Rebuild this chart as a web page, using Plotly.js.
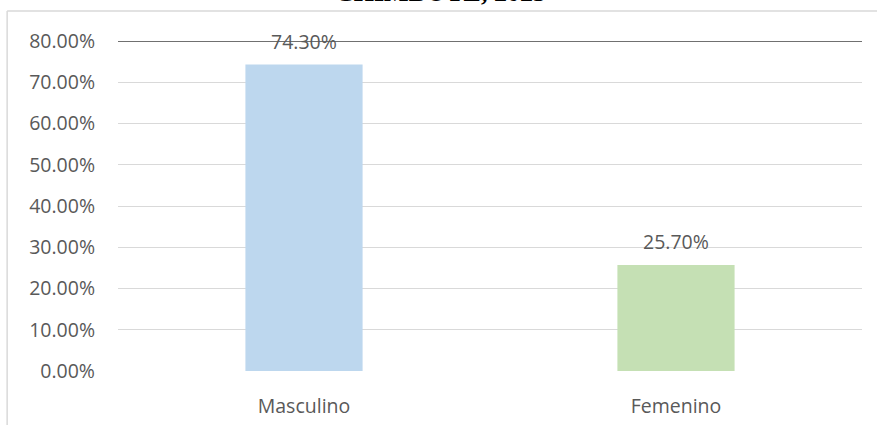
<!DOCTYPE html>
<html>
<head>
<meta charset="utf-8">
<script src="https://cdn.plot.ly/plotly-3.0.1.min.js"></script>
<style>
  html, body { margin: 0; padding: 0; background: #ffffff; }
  #chart { width: 877px; height: 425px; }
</style>
</head>
<body>
<div id="chart"></div>
<script>
// Distribución por sexo
const categories = ["Masculino", "Femenino"];
const shares = [0.743, 0.257];
const barColors = ["#bdd7ee", "#c5e0b4"];
const valueLabels = ["74.30%", "25.70%"];
const titleText = "CHIMBOTE, 2023";

const labelFont = { family: "Open Sans, Liberation Sans, sans-serif", size: 19.5, color: "#595959" };

const trace = {
  type: "bar",
  x: categories,
  y: shares,
  marker: { color: barColors, line: { width: 0 } },
  hoverinfo: "skip"
};

// value labels sit above each bar
const valueAnnotations = categories.map((c, i) => ({
  x: c, y: shares[i], xref: "x", yref: "y",
  text: valueLabels[i], showarrow: false,
  yanchor: "middle", yshift: 23,
  font: labelFont
}));

// chart heading, running off the top edge of the frame
const headingAnnotation = {
  xref: "paper", yref: "paper", x: 0.433, y: 1.148,
  xanchor: "center", yanchor: "middle",
  text: "<b>" + titleText + "</b>", showarrow: false,
  font: { family: "Liberation Serif, serif", size: 26, color: "#000000" }
};

const layout = {
  width: 877, height: 425,
  margin: { l: 118, r: 15, t: 41, b: 54 },
  paper_bgcolor: "#ffffff",
  plot_bgcolor: "#ffffff",
  showlegend: false,
  bargap: 0.685,
  xaxis: {
    type: "category",
    showgrid: false, zeroline: false, showline: false,
    ticks: "", tickfont: labelFont,
    ticklabelstandoff: 21
  },
  yaxis: {
    range: [0, 0.8],
    tickvals: [0, 0.1, 0.2, 0.3, 0.4, 0.5, 0.6, 0.7, 0.8],
    tickformat: ".2%",
    showgrid: true, gridcolor: "#d9d9d9", gridwidth: 1,
    zeroline: false, showline: false, ticks: "",
    tickfont: labelFont,
    ticklabelstandoff: 22
  },
  annotations: valueAnnotations.concat([headingAnnotation]),
  shapes: [
    // outer frame: top and left edges
    { type: "line", xref: "paper", yref: "paper", x0: -0.149, x1: 1.03, y0: 1.0909, y1: 1.0909,
      line: { color: "#d9d9d9", width: 1.5 }, layer: "below" },
    { type: "line", xref: "paper", yref: "paper", x0: -0.149, x1: -0.149, y0: 1.0909, y1: -0.2,
      line: { color: "#d9d9d9", width: 1.5 }, layer: "below" },
    // dark top rule at 80%
    { type: "line", xref: "paper", yref: "y", x0: 0, x1: 1, y0: 0.8, y1: 0.8,
      line: { color: "#404040", width: 1.5 }, layer: "below" }
  ]
};

Plotly.newPlot("chart", [trace], layout, { displayModeBar: false, staticPlot: true });
</script>
</body>
</html>
